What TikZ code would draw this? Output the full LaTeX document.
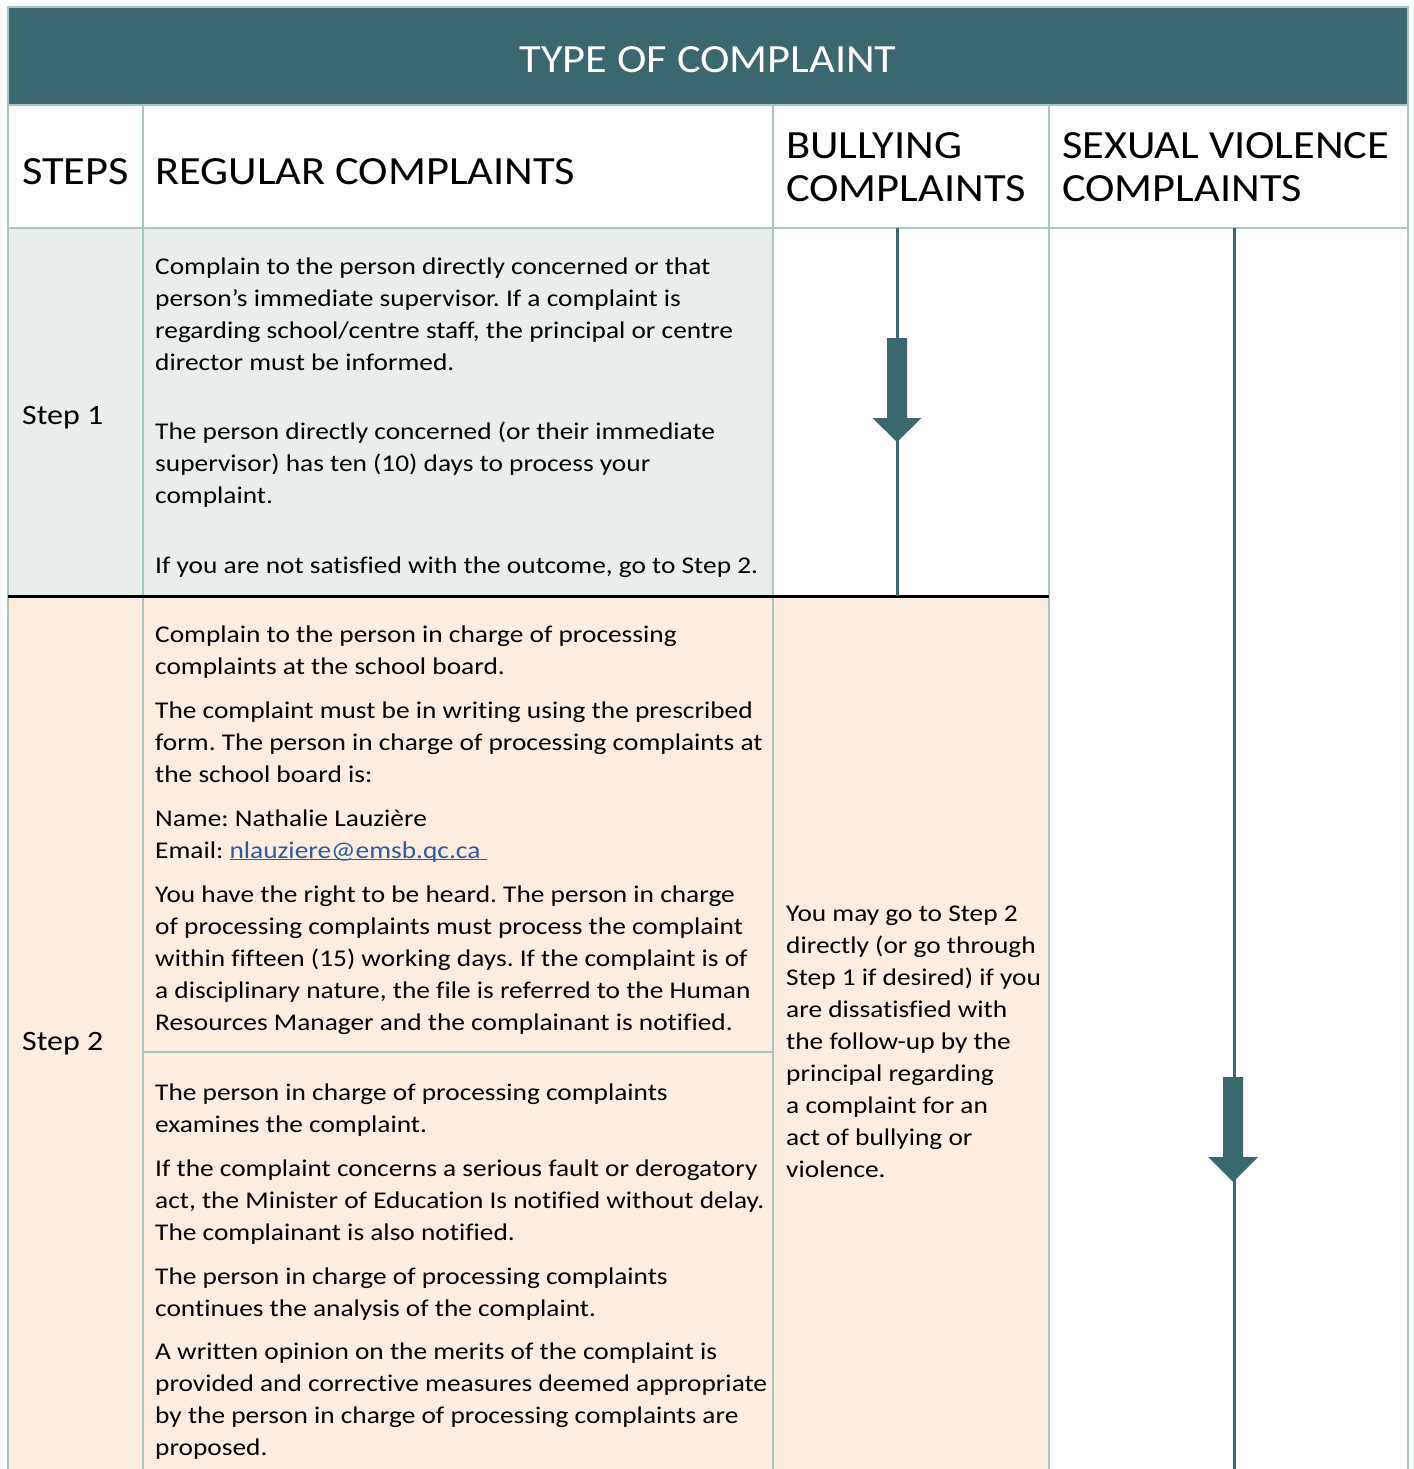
\documentclass[tikz,border=0pt]{standalone}
\usepackage{fontspec}
\setmainfont{Carlito}
\newfontfamily\bodyf[FakeStretch=1.14, Ligatures=NoCommon]{Carlito}
\newfontfamily\hdrf[FakeStretch=1.11, Ligatures=NoCommon]{Carlito}
\definecolor{hdrteal}{RGB}{59,104,112}
\definecolor{stepone}{RGB}{232,238,236}
\definecolor{steptwo}{RGB}{253,237,224}
\definecolor{gridc}{RGB}{170,198,194}
\definecolor{linkc}{RGB}{46,90,160}
\frenchspacing
\tikzset{
  body/.style={anchor=base west, inner sep=0pt, align=left, font=\bodyf\fontsize{24}{31.9}\selectfont},
  steplabel/.style={anchor=base west, inner sep=0pt, font=\bodyf\fontsize{28}{32}\selectfont},
  hdr/.style={anchor=base west, inner sep=0pt, align=left, font=\hdrf\fontsize{40}{43}\selectfont},
  gridline/.style={draw=gridc, line width=1.2pt},
  flowline/.style={draw=hdrteal, line width=3pt},
  blockarrow/.style={fill=hdrteal},
}
\begin{document}
\begin{tikzpicture}[x=1pt,y=-1pt]
\useasboundingbox (0,0) rectangle (1413,1469);
% backgrounds
\fill[hdrteal] (8,7) rectangle (1408,105);
\fill[stepone] (8,228) rectangle (773,596);
\fill[steptwo] (8,596) rectangle (1049,1469);
% grid
\draw[gridline] (8,7) rectangle (1408,105);
\draw[gridline] (8,105) -- (8,1469);
\draw[gridline] (143,105) -- (143,1469);
\draw[gridline] (773,105) -- (773,1469);
\draw[gridline] (1049,105) -- (1049,1469);
\draw[gridline] (1408,105) -- (1408,1469);
\draw[gridline] (8,228) -- (1408,228);
\draw[gridline] (143,1052) -- (773,1052);
\draw[line width=3pt] (8,596) -- (1049,596);
% title and headers (base anchor = last line baseline)
\node[anchor=base, inner sep=0pt, text=white, font=\hdrf\fontsize{40}{43}\selectfont] (title) at (708,72.5) {TYPE OF COMPLAINT};
\node[hdr] (hsteps) at (22,184) {STEPS};
\node[hdr] (hreg) at (155,184) {REGULAR COMPLAINTS};
\node[hdr] (hbul) at (786,201) {BULLYING\\COMPLAINTS};
\node[hdr] (hsex) at (1062,201) {SEXUAL VIOLENCE\\COMPLAINTS};
% step labels
\node[steplabel] (step1) at (22,424.5) {Step 1};
\node[steplabel] (step2) at (22,1050) {Step 2};
% step 1 text
\node[body] (s1a) at (155,370.5) {Complain to the person directly concerned or that\\person’s immediate supervisor. If a complaint is\\regarding school/centre staff, the principal or centre\\director must be informed.};
\node[body] (s1b) at (155,503) {The person directly concerned (or their immediate\\supervisor) has ten (10) days to process your\\complaint.};
\node[body] (s1c) at (155,573) {If you are not satisfied with the outcome, go to Step 2.};
% step 2 text
\node[body] (s2a) at (155,674) {Complain to the person in charge of processing\\complaints at the school board.};
\node[body] (s2b) at (155,782) {The complaint must be in writing using the prescribed\\form. The person in charge of processing complaints at\\the school board is:};
\node[body] (s2c) at (155,858) {Name: Nathalie Lauzière\\Email: {\color{linkc}\underline{\smash{nlauziere@emsb.qc.ca}\ }}};
\node[body] (s2d) at (155,1030) {You have the right to be heard. The person in charge\\of processing complaints must process the complaint\\within fifteen (15) working days. If the complaint is of\\a disciplinary nature, the file is referred to the Human\\Resources Manager and the complainant is notified.};
\node[body] (s2e) at (155,1132) {The person in charge of processing complaints\\examines the complaint.};
\node[body] (s2f) at (155,1240) {If the complaint concerns a serious fault or derogatory\\act, the Minister of Education Is notified without delay.\\The complainant is also notified.};
\node[body] (s2g) at (155,1316) {The person in charge of processing complaints\\continues the analysis of the complaint.};
\node[body] (s2h) at (155,1455.5) {A written opinion on the merits of the complaint is\\provided and corrective measures deemed appropriate\\by the person in charge of processing complaints are\\proposed.};
% bullying text
\node[body] (bul2) at (786,1177) {You may go to Step 2\\directly (or go through\\Step 1 if desired) if you\\are dissatisfied with\\the follow-up by the\\principal regarding\\a complaint for an\\act of bullying or\\violence.};
% flow lines and arrows
\coordinate (btop) at (897,228);
\coordinate (bbot) at (897,596);
\draw[flowline] (btop) -- (bbot);
\fill[blockarrow] (887,338) -- (907,338) -- (907,418) -- (921.5,418) -- (897,442) -- (872.5,418) -- (887,418) -- cycle;
\coordinate (stop) at (1234,228);
\coordinate (sbot) at (1234,1469);
\draw[flowline] (stop) -- (sbot);
\fill[blockarrow] (1223,1077) -- (1243,1077) -- (1243,1157) -- (1258,1157) -- (1233,1182) -- (1208,1157) -- (1223,1157) -- cycle;
\end{tikzpicture}
\end{document}
